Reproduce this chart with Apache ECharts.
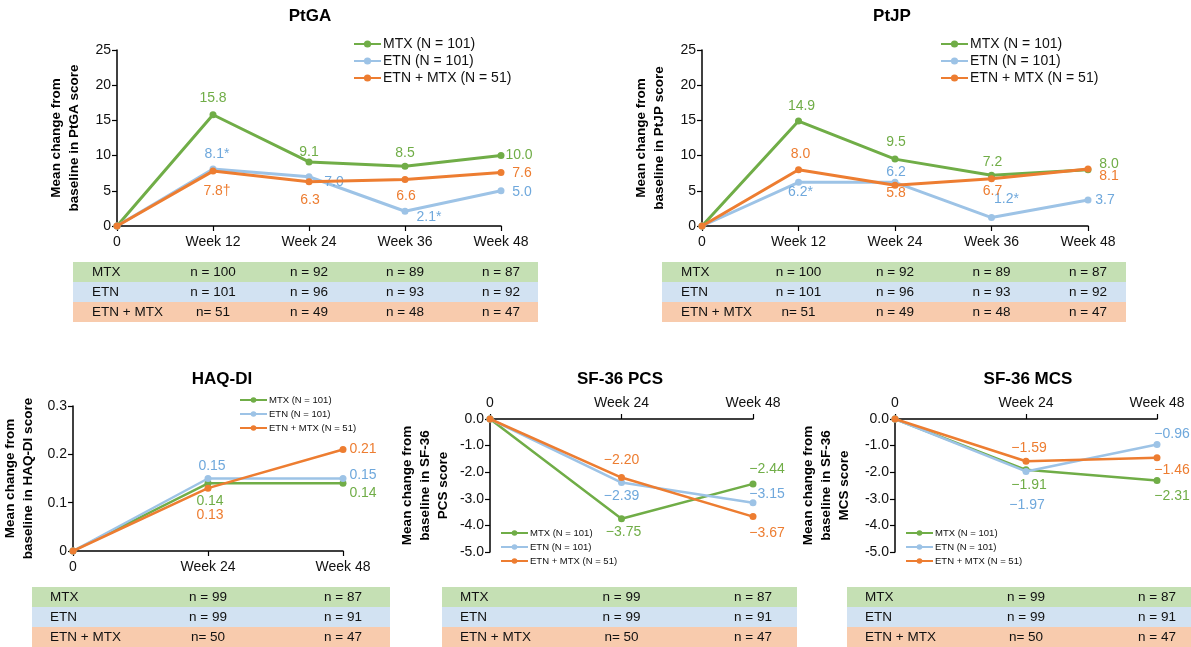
<!DOCTYPE html>
<html>
<head>
<meta charset="utf-8">
<script src="https://cdn.jsdelivr.net/npm/echarts@6/dist/echarts.min.js"></script>
<style>
  html, body { margin: 0; padding: 0; background: #fff; }
  #chart { width: 1191px; height: 647px; }
</style>
</head>
<body>
<div id="chart"></div>
<script>
// categories
const weeksTop = ['0', 'Week 12', 'Week 24', 'Week 36', 'Week 48']
const weeksBottom = ['0', 'Week 24', 'Week 48']
const seriesNames = ['MTX (N = 101)', 'ETN (N = 101)', 'ETN + MTX (N = 51)']
const rowNames = ['MTX', 'ETN', 'ETN + MTX']

// PtGA
const ptgaMtx = [0, 15.8, 9.1, 8.5, 10.0]
const ptgaEtn = [0, 8.1, 7.0, 2.1, 5.0]
const ptgaCombo = [0, 7.8, 6.3, 6.6, 7.6]
const ptgaEtnMarks = ['', '*', '', '*', '']
const ptgaComboMarks = ['', '\u2020', '', '', '']
const ptgaEtnTopMarks = ['', '', '', '', '*']

// PtJP
const ptjpMtx = [0, 14.9, 9.5, 7.2, 8.0]
const ptjpEtn = [0, 6.2, 6.2, 1.2, 3.7]
const ptjpCombo = [0, 8.0, 5.8, 6.7, 8.1]
const ptjpEtnMarks = ['', '*', '', '*', '']

// HAQ-DI
const haqMtx = [0, 0.14, 0.14]
const haqEtn = [0, 0.15, 0.15]
const haqCombo = [0, 0.13, 0.21]

// SF-36 PCS
const pcsMtx = [0, -3.75, -2.44]
const pcsEtn = [0, -2.39, -3.15]
const pcsCombo = [0, -2.20, -3.67]

// SF-36 MCS
const mcsMtx = [0, -1.91, -2.31]
const mcsEtn = [0, -1.97, -0.96]
const mcsCombo = [0, -1.59, -1.46]

// patient counts under each panel
const topMtxN = ['n = 100', 'n = 92', 'n = 89', 'n = 87']
const topEtnN = ['n = 101', 'n = 96', 'n = 93', 'n = 92']
const topComboN = ['n= 51', 'n = 49', 'n = 48', 'n = 47']
const bottomMtxN = ['n = 99', 'n = 87']
const bottomEtnN = ['n = 99', 'n = 91']
const bottomComboN = ['n= 50', 'n = 47']

// styles
const FONT = 'Liberation Sans, Arial, sans-serif'
const lineColors = ['#70ad47', '#9dc3e6', '#ed7d31']
const labelColors = ['#70ad47', '#6fa8dc', '#ed7d31']
const rowColors = ['#c5e0b4', '#d2e2f2', '#f8cbad']
const none = ['', '', '', '', '']

const panels = [
  {
    title: 'PtGA', titleX: 310, titleY: 8,
    grid: { left: 117, top: 50, width: 384, height: 176 },
    cats: weeksTop, yMin: 0, yMax: 25, yInt: 5, yFmt: v => String(v), dec: 1,
    yName: 'Mean change from\nbaseline in PtGA score', nameGap: 34,
    legend: { left: 353, top: 37, fontSize: 14, itemHeight: 9, itemGap: 3 },
    values: [ptgaMtx, ptgaEtn, ptgaCombo],
    marks: [none, ptgaEtnMarks, ptgaComboMarks],
    offsets: [
      [null, [0, -17], [0, -10], [0, -13], [18, 0]],
      [null, [4, -15], [25, 5], [24, 6], [21, 1]],
      [null, [4, 20], [1, 18], [1, 17], [21, 1]]
    ],
    extra: { values: ptgaEtn, marks: ptgaEtnTopMarks, color: labelColors[1], offset: [0, -7] },
    table: { x0: 73, x1: 538, top: 262, rowH: 20, labelX: 92, rows: [topMtxN, topEtnN, topComboN] },
    lineWidth: 3, lineFont: 14
  },
  {
    title: 'PtJP', titleX: 892, titleY: 8,
    grid: { left: 702, top: 50, width: 386, height: 176 },
    cats: weeksTop, yMin: 0, yMax: 25, yInt: 5, yFmt: v => String(v), dec: 1,
    yName: 'Mean change from\nbaseline in PtJP score', nameGap: 34,
    legend: { left: 940, top: 37, fontSize: 14, itemHeight: 9, itemGap: 3 },
    values: [ptjpMtx, ptjpEtn, ptjpCombo],
    marks: [none, ptjpEtnMarks, none],
    offsets: [
      [null, [3, -15], [1, -17], [1, -13], [21, -6]],
      [null, [2, 10], [1, -10], [15, -18], [17, 0]],
      [null, [2, -16], [1, 8], [1, 12], [21, 7]]
    ],
    table: { x0: 662, x1: 1126, top: 262, rowH: 20, labelX: 681, rows: [topMtxN, topEtnN, topComboN] },
    lineWidth: 3, lineFont: 14
  },
  {
    title: 'HAQ-DI', titleX: 222, titleY: 371,
    grid: { left: 73, top: 406, width: 270, height: 145 },
    cats: weeksBottom, yMin: 0, yMax: 0.3, yInt: 0.1, yFmt: v => v === 0 ? '0' : v.toFixed(1), dec: 2,
    yName: 'Mean change from\nbaseline in HAQ-DI score', nameGap: 36,
    legend: { left: 239, top: 395, fontSize: 9.5, itemHeight: 7, itemGap: 4 },
    values: [haqMtx, haqEtn, haqCombo],
    marks: [none, none, none],
    offsets: [
      [null, [2, 18], [20, 10]],
      [null, [4, -12], [20, -3]],
      [null, [2, 27], [20, 0]]
    ],
    table: { x0: 32, x1: 390, top: 587, rowH: 20, labelX: 50, rows: [bottomMtxN, bottomEtnN, bottomComboN] },
    lineWidth: 2.5, lineFont: 14
  },
  {
    title: 'SF-36 PCS', titleX: 620, titleY: 371,
    grid: { left: 490, top: 419, width: 263, height: 133 },
    cats: weeksBottom, yMin: -5, yMax: 0, yInt: 1, yFmt: v => v.toFixed(1), dec: 2, xTop: true,
    yName: 'Mean change from\nbaseline in SF-36\nPCS score', nameGap: 38,
    legend: { left: 500, top: 528, fontSize: 9.5, itemHeight: 7, itemGap: 4 },
    values: [pcsMtx, pcsEtn, pcsCombo],
    marks: [none, none, none],
    offsets: [
      [null, [2, 13], [14, -15]],
      [null, [0, 14], [14, -9]],
      [null, [0, -17], [14, 17]]
    ],
    table: { x0: 442, x1: 797, top: 587, rowH: 20, labelX: 460, rows: [bottomMtxN, bottomEtnN, bottomComboN] },
    lineWidth: 2.5, lineFont: 14
  },
  {
    title: 'SF-36 MCS', titleX: 1028, titleY: 371,
    grid: { left: 895, top: 419, width: 262, height: 133 },
    cats: weeksBottom, yMin: -5, yMax: 0, yInt: 1, yFmt: v => v.toFixed(1), dec: 2, xTop: true,
    yName: 'Mean change from\nbaseline in SF-36\nMCS score', nameGap: 42,
    legend: { left: 905, top: 528, fontSize: 9.5, itemHeight: 7, itemGap: 4 },
    values: [mcsMtx, mcsEtn, mcsCombo],
    marks: [none, none, none],
    offsets: [
      [null, [3, 15], [15, 16]],
      [null, [1, 34], [15, -10]],
      [null, [3, -13], [15, 12]]
    ],
    table: { x0: 847, x1: 1191, top: 587, rowH: 20, labelX: 865, rows: [bottomMtxN, bottomEtnN, bottomComboN] },
    lineWidth: 2.5, lineFont: 14
  }
]

function fmtValue(v, dec, mark) {
  return (v < 0 ? '\u2212' : '') + Math.abs(v).toFixed(dec) + (mark || '')
}

const chart = echarts.init(document.getElementById('chart'))

const title = []
const grid = []
const xAxis = []
const yAxis = []
const legend = []
const series = []

panels.forEach((p, pi) => {
  title.push({
    text: p.title, left: p.titleX, top: p.titleY, textAlign: 'center', padding: 0,
    textStyle: { fontSize: 17, fontWeight: 'bold', color: '#000', fontFamily: FONT }
  })
  grid.push(Object.assign({ containLabel: false }, p.grid))
  xAxis.push({
    type: 'category', gridIndex: pi, data: p.cats, boundaryGap: false,
    position: p.xTop ? 'top' : 'bottom',
    axisLine: { lineStyle: { color: '#000', width: 1.5 } },
    axisTick: { show: true, length: 5, lineStyle: { color: '#000', width: 1.2 } },
    axisLabel: { fontSize: 14, color: '#111', fontFamily: FONT, margin: 9 },
    splitLine: { show: false }
  })
  yAxis.push({
    type: 'value', gridIndex: pi, min: p.yMin, max: p.yMax, interval: p.yInt,
    axisLine: { show: true, onZero: false, lineStyle: { color: '#000', width: 1.5 } },
    axisTick: { show: true, length: 5, lineStyle: { color: '#000', width: 1.2 } },
    axisLabel: { fontSize: 14, color: '#111', fontFamily: FONT, margin: 6, formatter: p.yFmt },
    splitLine: { show: false },
    name: p.yName, nameLocation: 'middle', nameRotate: 90, nameGap: p.nameGap,
    nameTextStyle: { fontSize: 13.5, fontWeight: 'bold', color: '#000', lineHeight: 18, fontFamily: FONT }
  })
  legend.push({
    orient: 'vertical', left: p.legend.left, top: p.legend.top, padding: 0,
    itemWidth: 27, itemHeight: p.legend.itemHeight, itemGap: p.legend.itemGap,
    data: seriesNames, selectedMode: false,
    textStyle: { fontSize: p.legend.fontSize, color: '#111', fontFamily: FONT, padding: [0, 0, 0, -3] }
  })
  p.values.forEach((vals, si) => {
    series.push({
      name: seriesNames[si], type: 'line', xAxisIndex: pi, yAxisIndex: pi,
      symbol: 'circle', symbolSize: 7, showAllSymbol: true,
      lineStyle: { width: p.lineWidth, color: lineColors[si] },
      itemStyle: { color: lineColors[si] },
      z: 2 + si,
      data: vals.map((v, i) => {
        const off = p.offsets[si][i]
        return {
          value: v,
          label: off ? {
            show: true, position: 'inside', offset: off,
            formatter: fmtValue(v, p.dec, p.marks[si][i]),
            fontSize: p.lineFont, color: labelColors[si], fontFamily: FONT
          } : { show: false }
        }
      })
    })
  })
  if (p.extra) {
    series.push({
      name: 'marks', type: 'scatter', xAxisIndex: pi, yAxisIndex: pi,
      symbolSize: 1, itemStyle: { color: 'rgba(0,0,0,0)' }, z: 10,
      data: p.extra.values.map((v, i) => p.extra.marks[i] ? {
        value: v,
        label: { show: true, position: 'inside', offset: p.extra.offset, formatter: p.extra.marks[i],
          fontSize: p.lineFont, color: p.extra.color, fontFamily: FONT }
      } : null).map((d, i) => d || [i, null])
    })
  }
})

chart.setOption({
  animation: false,
  title, grid, xAxis, yAxis, legend, series
})

// n tables under each panel, columns aligned with the x categories
const graphic = []
panels.forEach((p, pi) => {
  const t = p.table
  t.rows.forEach((row, ri) => {
    const y = t.top + ri * t.rowH
    graphic.push({
      type: 'rect', shape: { x: t.x0, y: y, width: t.x1 - t.x0, height: t.rowH },
      style: { fill: rowColors[ri] }, silent: true
    })
    graphic.push({
      type: 'text', x: t.labelX, y: y + t.rowH / 2,
      style: { text: rowNames[ri], fontSize: 13.5, fontFamily: FONT, fill: '#111', align: 'left', verticalAlign: 'middle' }
    })
    row.forEach((txt, ci) => {
      const x = chart.convertToPixel({ xAxisIndex: pi }, ci + 1)
      graphic.push({
        type: 'text', x: x, y: y + t.rowH / 2,
        style: { text: txt, fontSize: 13.5, fontFamily: FONT, fill: '#111', align: 'center', verticalAlign: 'middle' }
      })
    })
  })
})
chart.setOption({ graphic })

window.addEventListener('resize', () => chart.resize())
</script>
</body>
</html>
